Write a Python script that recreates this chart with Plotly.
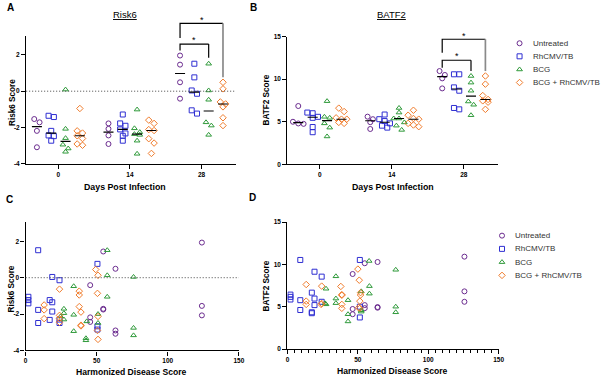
import statistics
import plotly.graph_objects as go

W, H = 605, 379
FONT = "Arial, 'Liberation Sans', sans-serif"

# ---------------- data ----------------
groups = ["Untreated", "RhCMV/TB", "BCG", "BCG + RhCMV/TB"]
day_labels = ["0", "14", "28"]
colors = ["#6b2c8f", "#2f2fd2", "#2f9a3a", "#f07c2c"]
symbols = ["circle-open", "square-open", "triangle-up-open", "diamond-open"]

# Panel A: Risk6 score by day (lists per day 0, 14, 28)
risk6_untreated = [[-1.53, -1.71, -2.18, -3.08], [-1.77, -2.07, -2.43, -2.90], [1.96, 1.46, 0.49, -0.41]]
risk6_rhcmv = [[-1.35, -1.42, -2.18, -2.43, -2.47, -2.72], [-1.28, -1.77, -1.90, -2.10, -2.32, -2.45, -2.72], [1.51, 0.76, 0.04, -0.14, -1.05, -1.23]]
risk6_bcg = [[0.09, -2.07, -2.58, -2.94, -3.15, -3.33], [-1.01, -2.04, -2.25, -2.36, -2.40, -2.72, -3.44], [1.51, 0.04, -0.47, -1.71, -1.89, -2.40]]
risk6_combo = [[-0.95, -2.18, -2.30, -2.45, -2.60, -2.90, -2.97], [-1.59, -1.77, -2.11, -2.16, -2.61, -2.85, -3.42], [0.49, 0.13, -0.59, -0.70, -0.86, -1.46, -1.89]]

# Panel B: BATF2 score by day
batf2_untreated = [[6.85, 5.00, 4.80, 4.75], [5.60, 5.30, 4.95, 4.15], [10.96, 10.50, 10.10, 8.92]]
batf2_rhcmv = [[6.08, 6.00, 5.58, 5.46, 4.38, 3.77], [5.85, 5.30, 5.08, 4.81, 4.54, 4.31], [10.58, 10.58, 9.04, 8.65, 6.62, 6.46]]
batf2_bcg = [[7.42, 5.58, 5.46, 4.81, 4.31, 3.27], [6.62, 6.08, 5.38, 5.38, 4.92, 4.54, 4.04], [10.38, 9.60, 8.65, 7.38, 7.00, 5.77]]
batf2_combo = [[6.60, 6.20, 5.46, 5.30, 5.30, 4.92, 4.81], [6.35, 5.77, 5.38, 5.30, 4.81, 4.62, 4.42], [10.38, 9.42, 8.08, 7.62, 7.46, 7.30, 6.46]]

# Panel C: Harmonized disease score vs Risk6
c_untreated_hds = [124, 124, 124, 54.6, 54.6, 54.6, 63.2, 63.2, 63.2, 45.4, 45.4, 45.4]
c_untreated_risk6 = [1.93, -1.55, -2.07, 1.44, -1.71, -1.75, 0.49, -2.90, -3.08, -0.41, -2.18, -2.43]
c_rhcmv_hds = [8.8, 1.9, 1.9, 1.9, 8.8, 8.8, 16.9, 18.7, 18.7, 23.8, 18.7, 16.9, 23.8, 23.8, 50.5, 50.5, 50.5]
c_rhcmv_risk6 = [1.51, -1.05, -1.23, -1.41, -1.77, -2.49, -1.23, -1.35, 0.04, -0.14, -1.86, -2.32, -2.49, -2.30, 0.76, -2.67, -2.85]
c_bcg_hds = [57.4, 57.4, 75.9, 33.8, 57.4, 26.9, 26.9, 26.9, 24.5, 33.8, 43.0, 50.9, 50.9, 33.8, 42.4, 42.4, 75.9, 75.9]
c_bcg_risk6 = [1.51, 0.13, 0.04, -0.47, -1.05, -1.71, -1.95, -2.30, -2.13, -2.04, -2.40, -2.00, -2.49, -2.94, -3.33, -3.44, -2.76, -3.17]
c_combo_hds = [49.3, 50.9, 23.8, 37.7, 37.7, 50.5, 13.0, 13.0, 37.7, 38.9, 13.0, 23.8, 23.8, 38.9, 38.9, 50.9, 50.5, 50.9, 23.8]
c_combo_risk6 = [0.45, 0.13, -0.63, -0.74, -0.95, -0.86, -1.50, -1.77, -1.59, -1.89, -2.25, -2.07, -2.25, -2.61, -2.65, -2.13, -2.90, -3.39, -2.45]

# Panel D: Harmonized disease score vs BATF2
d_untreated_hds = [125.7, 125.7, 125.7, 54.9, 54.9, 54.9, 64.0, 64.0, 64.0, 46.3, 46.3, 46.3]
d_untreated_batf2 = [10.93, 6.83, 5.60, 10.15, 5.21, 4.85, 10.30, 4.98, 4.90, 8.88, 4.75, 4.13]
d_rhcmv_hds = [9.1, 2.1, 2.1, 2.1, 9.1, 9.1, 19.2, 24.3, 17.3, 19.2, 19.2, 17.3, 17.3, 24.3, 51.4, 51.4, 51.4]
d_rhcmv_batf2 = [10.54, 6.45, 6.18, 5.87, 5.79, 4.63, 9.15, 8.57, 6.68, 5.98, 5.21, 4.36, 4.25, 5.60, 10.54, 5.02, 3.75]
d_bcg_hds = [58.0, 76.9, 34.4, 27.4, 58.2, 58.2, 52.4, 34.4, 34.4, 43.0, 26.7, 27.4, 76.9, 76.9, 43.0, 43.0, 52.4, 52.4]
d_bcg_batf2 = [10.42, 9.38, 8.61, 7.14, 7.45, 6.56, 6.83, 5.98, 5.44, 5.79, 5.41, 5.30, 5.02, 4.36, 4.13, 3.28, 4.44, 4.60]
d_combo_hds = [50.0, 13.3, 24.3, 37.9, 51.0, 38.6, 38.6, 51.9, 51.9, 51.4, 13.3, 13.3, 23.9, 38.6, 38.6, 51.4, 50.5, 24.3]
d_combo_batf2 = [9.46, 7.64, 7.45, 7.41, 8.15, 6.45, 6.37, 6.68, 6.40, 5.68, 5.68, 5.29, 5.29, 5.29, 4.83, 4.83, 4.90, 5.40]

risk6_ticks = [-4, -2, 0, 2]
risk6_ticktext = ["-4", "-2", "0", "2"]
batf2_ticks = [0, 5, 10, 15]
hds_ticks = [0, 50, 100, 150]

# ---------------- layout geometry (pixels) ----------------
PANELS = {
    "A": dict(x=(24.5, 237.0), y=(32.3, 163.0), xr=(-0.45, 2.48), yr=(-4, 3.05), ax="x", ay="y"),
    "B": dict(x=(289.3, 503.0), y=(33.3, 163.3), xr=(-0.45, 2.48), yr=(0, 15), ax="x2", ay="y2"),
    "C": dict(x=(24.0, 240.0), y=(222.3, 353.0), xr=(0, 150), yr=(-4, 3.05), ax="x3", ay="y3"),
    "D": dict(x=(289.3, 503.3), y=(222.3, 351.7), xr=(0, 150), yr=(0, 15), ax="x4", ay="y4"),
}
GROUP_OFFSETS = [-0.3, -0.1, 0.1, 0.3]
MSIZE = 5.0
MLINE = 1.0


def px_x(p, v):
    P = PANELS[p]
    return P["x"][0] + (v - P["xr"][0]) / (P["xr"][1] - P["xr"][0]) * (P["x"][1] - P["x"][0])


def px_y(p, v):
    P = PANELS[p]
    return P["y"][1] - (v - P["yr"][0]) / (P["yr"][1] - P["yr"][0]) * (P["y"][1] - P["y"][0])


def pap_x(px):
    return px / W


def pap_y(py):
    return 1 - py / H


def swarm(vals, p, row_h=4.6, w=5.4):
    P = PANELS[p]
    ypu = (P["y"][1] - P["y"][0]) / (P["yr"][1] - P["yr"][0])
    xpp = (P["xr"][1] - P["xr"][0]) / (P["x"][1] - P["x"][0])
    idx = sorted(range(len(vals)), key=lambda i: -vals[i])
    rows, cur = [], []
    for i in idx:
        if cur and abs(vals[cur[0]] - vals[i]) * ypu > row_h:
            rows.append(cur)
            cur = []
        cur.append(i)
    if cur:
        rows.append(cur)
    offs = [0.0] * len(vals)
    for r in rows:
        m = len(r)
        for k, i in enumerate(r):
            offs[i] = (k - (m - 1) / 2) * w * xpp
    return offs


fig = go.Figure()


def marker_style(g):
    return dict(symbol=symbols[g], size=MSIZE, color=colors[g], line=dict(width=MLINE, color=colors[g]))


def dot_panel(p, series):
    P = PANELS[p]
    mx, my = [], []
    for g, per_day in enumerate(series):
        xs, ys = [], []
        for d, vals in enumerate(per_day):
            offs = swarm(vals, p)
            c = d + GROUP_OFFSETS[g]
            xs += [c + o for o in offs]
            ys += list(vals)
            med = statistics.median(vals)
            mx += [c - 0.07, c + 0.07, None]
            my += [med, med, None]
        fig.add_trace(go.Scatter(
            x=xs, y=ys, mode="markers", name=groups[g], showlegend=False,
            xaxis=P["ax"], yaxis=P["ay"], marker=marker_style(g)))
    fig.add_trace(go.Scatter(x=mx, y=my, mode="lines", showlegend=False, xaxis=P["ax"], yaxis=P["ay"],
                             line=dict(color="black", width=1.1), hoverinfo="skip"))


def xy_panel(p, xs_list, ys_list):
    P = PANELS[p]
    for g in range(4):
        fig.add_trace(go.Scatter(
            x=xs_list[g], y=ys_list[g], mode="markers", name=groups[g], showlegend=False,
            xaxis=P["ax"], yaxis=P["ay"], marker=marker_style(g)))


dot_panel("A", [risk6_untreated, risk6_rhcmv, risk6_bcg, risk6_combo])
dot_panel("B", [batf2_untreated, batf2_rhcmv, batf2_bcg, batf2_combo])
xy_panel("C", [c_untreated_hds, c_rhcmv_hds, c_bcg_hds, c_combo_hds],
         [c_untreated_risk6, c_rhcmv_risk6, c_bcg_risk6, c_combo_risk6])
xy_panel("D", [d_untreated_hds, d_rhcmv_hds, d_bcg_hds, d_combo_hds],
         [d_untreated_batf2, d_rhcmv_batf2, d_bcg_batf2, d_combo_batf2])

# legends (drawn on a hidden pixel-space axis)
LEGENDS = [dict(mx=524.5, tx=535.7, rows=[40.0, 53.3, 66.7, 80.0]),
           dict(mx=506.7, tx=517.5, rows=[236.0, 249.5, 263.0, 276.5])]
annotations = []
for L in LEGENDS:
    for g in range(4):
        fig.add_trace(go.Scatter(
            x=[L["mx"]], y=[L["rows"][g]], mode="markers", showlegend=False, xaxis="x5", yaxis="y5",
            marker=marker_style(g), hoverinfo="skip"))
        annotations.append(dict(x=L["tx"], y=L["rows"][g], xref="x5", yref="y5", text=groups[g],
                                showarrow=False, xanchor="left", yanchor="middle",
                                font=dict(family=FONT, size=8.0, color="#333333")))

axis_common = dict(showline=True, linecolor="black", linewidth=1.4, ticks="outside", ticklen=4,
                   tickwidth=1.2, tickcolor="black", showgrid=False, zeroline=False,
                   tickfont=dict(family=FONT, size=6.5, color="black", weight="bold"), fixedrange=True)

layout = dict(width=W, height=H, margin=dict(l=0, r=0, t=0, b=0),
              paper_bgcolor="white", plot_bgcolor="rgba(0,0,0,0)", showlegend=False)

names = {"A": ("xaxis", "yaxis"), "B": ("xaxis2", "yaxis2"), "C": ("xaxis3", "yaxis3"), "D": ("xaxis4", "yaxis4")}
for p, (xn, yn) in names.items():
    P = PANELS[p]
    xd = [pap_x(P["x"][0]), pap_x(P["x"][1])]
    yd = [pap_y(P["y"][1]), pap_y(P["y"][0])]
    xa = dict(axis_common, domain=xd, range=list(P["xr"]), anchor=P["ay"])
    ya = dict(axis_common, domain=yd, range=list(P["yr"]), anchor=P["ax"])
    if p in ("A", "B"):
        xa.update(tickmode="array", tickvals=[0, 1, 2], ticktext=day_labels)
    else:
        xa.update(tickmode="array", tickvals=hds_ticks)
    if p in ("A", "C"):
        ya.update(tickmode="array", tickvals=risk6_ticks, ticktext=risk6_ticktext)
    else:
        ya.update(tickmode="array", tickvals=batf2_ticks)
    if p == "D":
        xa.update(minor=dict(ticks="outside", ticklen=2.5, tickwidth=1, tickcolor="black", dtick=5, showgrid=False))
    layout[xn] = xa
    layout[yn] = ya

layout["xaxis5"] = dict(domain=[0, 1], range=[0, W], visible=False, fixedrange=True, anchor="y5")
layout["yaxis5"] = dict(domain=[0, 1], range=[H, 0], visible=False, fixedrange=True, anchor="x5")

shapes = []
# dotted zero lines in A and C
for p in ("A", "C"):
    P = PANELS[p]
    shapes.append(dict(type="line", xref="paper", yref="paper",
                       x0=pap_x(P["x"][0]), x1=pap_x(P["x"][1]),
                       y0=pap_y(px_y(p, 0)), y1=pap_y(px_y(p, 0)),
                       line=dict(color="#444444", width=1, dash="1px,2px")))

# significance brackets: (panel, x_left, x_right, y_top, y_left_end, y_right_end, star_y, right_leg_colour)
brackets = [
    ("A", 2 - 0.3, 2 + 0.1, 2.59, 2.23, 1.84, 2.94, "black"),
    ("A", 2 - 0.3, 2 + 0.3, 3.73, 2.92, 0.76, 4.03, "#8a8a8a"),
    ("B", 2 - 0.3, 2 + 0.1, 12.23, 11.35, 10.96, 12.99, "black"),
    ("B", 2 - 0.3, 2 + 0.3, 14.70, 13.10, 10.96, 15.38, "#8a8a8a"),
]
for p, xl, xr_, yt, yl, yr_, ys, rc in brackets:
    X1, X2 = pap_x(px_x(p, xl)), pap_x(px_x(p, xr_))
    YT, YL, YR = pap_y(px_y(p, yt)), pap_y(px_y(p, yl)), pap_y(px_y(p, yr_))
    shapes.append(dict(type="path", xref="paper", yref="paper",
                       path=f"M {X1},{YL} L {X1},{YT} L {X2},{YT}",
                       line=dict(color="black", width=1.2)))
    shapes.append(dict(type="line", xref="paper", yref="paper", x0=X2, x1=X2, y0=YT, y1=YR,
                       line=dict(color=rc, width=1.2 if rc == "black" else 1.7)))
    annotations.append(dict(x=(X1 + X2) / 2, y=pap_y(px_y(p, ys) + 2.5), xref="paper", yref="paper",
                            text="*", showarrow=False, xanchor="center", yanchor="middle",
                            font=dict(family=FONT, size=9, color="black")))

# text: panel letters, titles, axis titles
texts = [
    ("A", 3.5, 3.5, 10, "bold", "left", 0),
    ("B", 249.5, 4, 10, "bold", "left", 0),
    ("C", 2.5, 199, 10, "bold", "left", 0),
    ("D", 248.5, 197, 10, "bold", "left", 0),
    ("<u>Risk6</u>", 125, 10.5, 9.5, "normal", "center", 0),
    ("<u>BATF2</u>", 395, 10.5, 9.5, "normal", "center", 0),
    ("Days Post Infection", 125, 186, 8.8, "bold", "center", 0),
    ("Days Post Infection", 396, 186, 8.8, "bold", "center", 0),
    ("Harmonized Disease Score", 131, 374.5, 8.6, "bold", "center", 0),
    ("Harmonized Disease Score", 396, 373.5, 8.6, "bold", "center", 0),
    ("Risk6 Score", 10, 100, 8.2, "bold", "center", -90),
    ("BATF2 Score", 268.3, 97.5, 8.2, "bold", "center", -90),
    ("Risk6 Score", 10, 290, 8.2, "bold", "center", -90),
    ("BATF2 Score", 268.3, 287, 8.2, "bold", "center", -90),
]
for t, x, y, s, wgt, xa_, ang in texts:
    annotations.append(dict(x=pap_x(x), y=pap_y(y), xref="paper", yref="paper", text=t, showarrow=False,
                            xanchor=xa_, yanchor="middle", textangle=ang,
                            font=dict(family=FONT, size=s, color="black", weight=wgt)))

layout["shapes"] = shapes
layout["annotations"] = annotations
fig.update_layout(**layout)
fig.write_html("out.html", config={"displayModeBar": False},
               post_script="document.body.style.margin='0px';document.body.style.overflow='hidden';")
